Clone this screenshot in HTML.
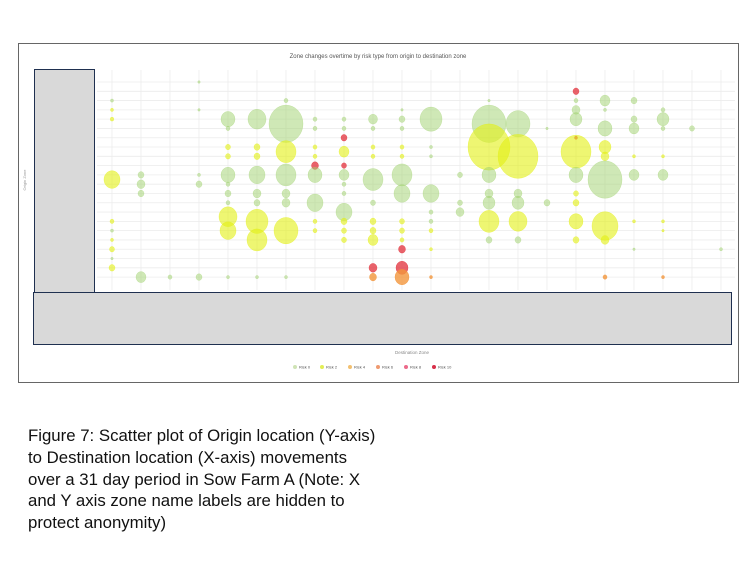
<!DOCTYPE html>
<html><head><meta charset="utf-8"><style>
body{margin:0;background:#fff;width:750px;height:563px;overflow:hidden;font-family:"Liberation Sans",sans-serif}
.cap{position:absolute;left:28px;top:425px;font-size:16.8px;line-height:21.8px;color:#111}
</style></head><body>
<svg width="750" height="563" style="position:absolute;left:0;top:0">
<rect x="18.5" y="43.5" width="720" height="339" fill="#fff" stroke="#666" stroke-width="1"/>
<text x="378" y="58" font-size="6" fill="#555" text-anchor="middle">Zone changes overtime by risk type from origin to destination zone</text>
<g id="grid" stroke="#ececec" stroke-width="0.8"></g>
<g id="bub"></g>
<rect x="34.5" y="69.5" width="60" height="223" fill="#d9d9d9" stroke="#1f3050" stroke-width="1"/>
<rect x="33.5" y="292.5" width="698" height="52" fill="#d9d9d9" stroke="#1f3050" stroke-width="1"/>
<text x="26" y="180" font-size="4" fill="#999" transform="rotate(-90 26 180)" text-anchor="middle">Origin Zone</text>
<text x="412" y="354" font-size="4.5" fill="#888" text-anchor="middle">Destination Zone</text>
<g font-size="4" fill="#555">
<circle cx="295" cy="367" r="2" fill="#cfe3b5"/><text x="299" y="368.5">Risk 0</text>
<circle cx="322" cy="367" r="2" fill="#e2ee55"/><text x="326" y="368.5">Risk 2</text>
<circle cx="350" cy="367" r="2" fill="#f2c070"/><text x="354" y="368.5">Risk 4</text>
<circle cx="378" cy="367" r="2" fill="#ef9a70"/><text x="382" y="368.5">Risk 6</text>
<circle cx="406" cy="367" r="2" fill="#ec6a8a"/><text x="410" y="368.5">Risk 8</text>
<circle cx="434" cy="367" r="2" fill="#d8304a"/><text x="438" y="368.5">Risk 10</text>
</g>
</svg>
<div class="cap">Figure 7: Scatter plot of Origin location (Y-axis)<br>to Destination location (X-axis) movements<br>over a 31 day period in Sow Farm A (Note: X<br>and Y axis zone name labels are hidden to<br>protect anonymity)</div>
<script>
var ns="http://www.w3.org/2000/svg";
var g=document.getElementById('grid');
function el(p,t,a){var e=document.createElementNS(ns,t);for(var k in a)e.setAttribute(k,a[k]);p.appendChild(e);return e;}
for(var r=0;r<22;r++){var y=82+r*9.29;el(g,'line',{x1:97,x2:735,y1:y,y2:y});}
for(var c=0;c<22;c++){var x=112+c*29;el(g,'line',{x1:x,x2:x,y1:70,y2:290});}
var C={g:'rgba(160,210,110,0.5)',y:'rgba(226,240,20,0.6)',r:'rgba(228,60,70,0.8)',o:'rgba(242,150,60,0.8)'};
var B=[
[0,2,1.5,'g'],[0,3,1.5,'y'],[0,4,1.8,'y'],[0,10.5,8,'y'],[0,15,2,'y'],[0,16,1.5,'g'],[0,17,1.5,'y'],[0,18,2.5,'y'],[0,20,3,'y'],[0,19,1.2,'g'],
[1,10,3,'g'],[1,11,4,'g'],[1,12,3,'g'],[1,21,5,'g'],[2,21,2,'g'],
[3,0,1.2,'g'],[3,3,1.2,'g'],[3,10,1.5,'g'],[3,11,3,'g'],[3,21,3,'g'],
[4,4,7,'g'],[4,5,2,'g'],[4,7,2.5,'y'],[4,8,2.5,'y'],[4,10,7,'g'],[4,11,2,'g'],[4,12,3,'g'],[4,13,2,'g'],[4,14.5,9,'y'],[4,16,8,'y'],[4,21,1.5,'g'],
[5,4,9,'g'],[5,7,3,'y'],[5,8,3,'y'],[5,10,8,'g'],[5,12,4,'g'],[5,13,3,'g'],[5,15,11,'y'],[5,17,10,'y'],[5,21,1.5,'g'],
[6,2,2,'g'],[6,4.5,17,'g'],[6,7.5,10,'y'],[6,10,10,'g'],[6,12,4,'g'],[6,13,4,'g'],[6,16,12,'y'],[6,21,1.5,'g'],
[7,4,2,'g'],[7,5,2,'g'],[7,7,2,'y'],[7,8,2,'y'],[7,9,3.5,'r'],[7,10,7,'g'],[7,13,8,'g'],[7,15,2,'y'],[7,16,2,'y'],
[8,4,2,'g'],[8,5,2,'g'],[8,6,3,'r'],[8,7.5,5,'y'],[8,9,2.5,'r'],[8,10,5,'g'],[8,11,2,'g'],[8,12,2,'g'],[8,14,8,'g'],[8,15,3,'y'],[8,16,2.5,'y'],[8,17,2.5,'y'],
[9,4,4.5,'g'],[9,5,2,'g'],[9,7,2,'y'],[9,8,2,'y'],[9,10.5,10,'g'],[9,13,2.5,'g'],[9,15,3,'y'],[9,16,3,'y'],[9,17,5,'y'],[9,20,4,'r'],[9,21,3.5,'o'],
[10,3,1.2,'g'],[10,4,3,'g'],[10,5,2,'g'],[10,7,2,'y'],[10,8,2,'y'],[10,10,10,'g'],[10,12,8,'g'],[10,15,2.5,'y'],[10,16,2.5,'y'],[10,17,2,'y'],[10,18,3.5,'r'],[10,20,6,'r'],[10,21,7,'o'],
[11,4,11,'g'],[11,7,1.5,'g'],[11,8,1.5,'g'],[11,12,8,'g'],[11,14,2,'g'],[11,15,2,'g'],[11,16,2,'y'],[11,18,1.5,'y'],[11,21,1.5,'o'],
[12,10,2.5,'g'],[12,13,2.5,'g'],[12,14,4,'g'],
[13,2,1.2,'g'],[13,4.5,17,'g'],[13,7,21,'y'],[13,10,7,'g'],[13,12,4,'g'],[13,13,6,'g'],[13,15,10,'y'],[13,17,3,'g'],
[14,4.5,12,'g'],[14,8,20,'y'],[14,12,4,'g'],[14,13,6,'g'],[14,15,9,'y'],[14,17,3,'g'],
[15,5,1.2,'g'],[15,13,3,'g'],
[16,1,3,'r'],[16,2,2,'g'],[16,3,4,'g'],[16,4,6,'g'],[16,6,1.5,'r'],[16,7.5,15,'y'],[16,10,7,'g'],[16,12,2.5,'y'],[16,13,3,'y'],[16,15,7,'y'],[16,17,3,'y'],
[17,2,5,'g'],[17,3,1.5,'g'],[17,5,7,'g'],[17,7,6,'y'],[17,8,4,'y'],[17,10.5,17,'g'],[17,15.5,13,'y'],[17,17,4,'y'],[17,21,2,'o'],
[18,2,3,'g'],[18,4,3,'g'],[18,5,5,'g'],[18,8,1.5,'y'],[18,10,5,'g'],[18,15,1.5,'y'],[18,18,1.2,'g'],
[19,3,2,'g'],[19,4,6,'g'],[19,5,2,'g'],[19,8,1.5,'y'],[19,10,5,'g'],[19,15,1.5,'y'],[19,16,1.2,'y'],[19,21,1.5,'o'],
[20,5,2.5,'g'],[21,18,1.5,'g']];
var bg=document.getElementById('bub');
B.forEach(function(b){el(bg,'ellipse',{cx:112+b[0]*29,cy:82+b[1]*9.29,rx:b[2],ry:b[2]*1.1,fill:C[b[3]],stroke:C[b[3]],'stroke-width':0.5});});
</script>
</body></html>
